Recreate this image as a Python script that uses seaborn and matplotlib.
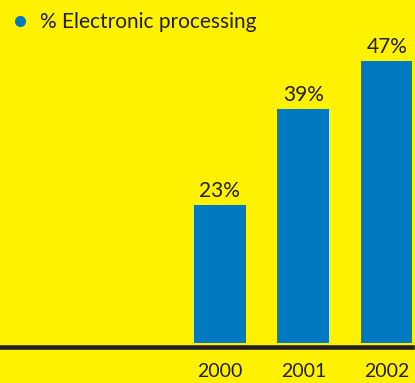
import matplotlib
matplotlib.use("Agg")
import pandas as pd
import seaborn as sns
import matplotlib.pyplot as plt
from matplotlib.lines import Line2D

# Data
years = ["2000", "2001", "2002"]
electronic_pct = [23, 39, 47]
series_name = "% Electronic processing"

yellow = "#FFF200"
blue = "#0079C1"
dark = "#231F20"

df = pd.DataFrame({"year": years, "pct": electronic_pct})

sns.set_style("white")
plt.rcParams["font.family"] = ["Lato", "DejaVu Sans"]

fig = plt.figure(figsize=(4.15, 3.83), dpi=100, facecolor=yellow)
ax = fig.add_axes([0, 36.5 / 383, 412 / 415, 346.5 / 383])
ax.set_facecolor(yellow)

sns.barplot(data=df, x="year", y="pct", color=blue, width=0.62,
            saturation=1, linewidth=0, edgecolor=blue, ax=ax, zorder=2)

ax.set_xlim(-2.63, 2.3)
ax.set_ylim(-0.58, 57.17)

for c in ax.containers:
    ax.bar_label(c, fmt="{:.0f}%", padding=3, fontsize=15, color=dark)

# axis styling
for s in ["top", "left", "right"]:
    ax.spines[s].set_visible(False)
ax.spines["bottom"].set_color(dark)
ax.spines["bottom"].set_linewidth(3.3)
ax.spines["bottom"].set_zorder(3)
ax.set_yticks([])
ax.tick_params(axis="x", length=0, pad=12, labelsize=14, labelcolor=dark)
ax.set_xlabel("")
ax.set_ylabel("")

# legend
handle = Line2D([], [], marker="o", linestyle="none", color=blue, markersize=7)
ax.legend([handle], [series_name], loc="upper left", bbox_to_anchor=(-0.022, 1.02),
          frameon=False, fontsize=15, handlelength=1.0, handletextpad=0.45,
          labelcolor=dark)

fig.savefig("out.png", dpi=100, facecolor=yellow)
